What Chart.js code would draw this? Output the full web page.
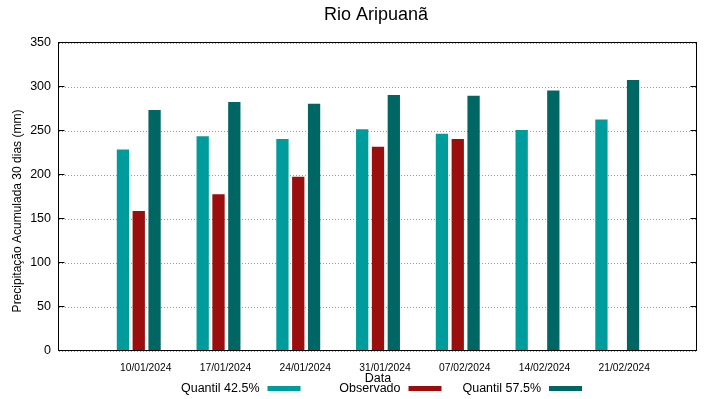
<!DOCTYPE html>
<html><head><meta charset="utf-8">
<script src="https://cdn.jsdelivr.net/npm/chart.js@4.4.1/dist/chart.umd.min.js"></script>
<style>html,body{margin:0;padding:0;background:#fff;overflow:hidden}</style>
</head><body>
<canvas id="c" width="719" height="399" style="display:block;width:719px;height:399px"></canvas>
<script>
const chartTitle = 'Rio Aripuanã';
const yTitle = 'Precipitação Acumulada 30 dias (mm)';
const xTitle = 'Data';
const dates = ['10/01/2024','17/01/2024','24/01/2024','31/01/2024','07/02/2024','14/02/2024','21/02/2024'];
const seriesNames = ['Quantil 42.5%','Observado','Quantil 57.5%'];
const quantil425 = [229,244,241,252,247,251,263];
const observado = [159,178,198,232,241,null,null];
const quantil575 = [274,283,281,291,290,296,308];
const colors = ['#009c9c','#9a0e0e','#006663'];

const FONT = '"Liberation Sans", Arial, sans-serif';
const pad = a => [null, ...a, null];
const labels = ['', ...dates, ''];

const deco = {
  id: 'deco',
  afterDatasetsDraw(chart) {
    const {ctx, chartArea: a, scales} = chart;
    ctx.save();
    ctx.strokeStyle = '#000';
    ctx.lineWidth = 1;
    const L = Math.round(a.left) - 0.5, R = Math.round(a.right) - 0.5;
    const T = Math.round(a.top) - 0.5, B = Math.round(a.bottom) - 0.5;
    ctx.beginPath();
    scales.y.ticks.forEach(t => {
      const y = Math.round(scales.y.getPixelForValue(t.value)) - 0.5;
      ctx.moveTo(L, y); ctx.lineTo(L + 6, y);
      ctx.moveTo(R, y); ctx.lineTo(R - 6, y);
    });
    ctx.stroke();
    ctx.strokeRect(L, T, R - L, B - T);
    ctx.restore();
  },
  afterDraw(chart) {
    const {ctx, chartArea: a} = chart;
    const cx = (a.left + a.right) / 2;
    ctx.save();
    ctx.fillStyle = '#000';
    ctx.textAlign = 'center';
    ctx.textBaseline = 'alphabetic';
    ctx.font = '18px ' + FONT;
    ctx.fillText(chartTitle, cx - 2, 20);
    ctx.save();
    ctx.translate(20.7, 211);
    ctx.rotate(-Math.PI / 2);
    ctx.font = '12px ' + FONT;
    ctx.fillText(yTitle, 0, 0);
    ctx.restore();
    ctx.font = '12.5px ' + FONT;
    ctx.textAlign = 'right';
    const offs = [-118.5, 22.5, 163];
    chart.data.datasets.forEach((ds, i) => {
      const xr = cx + offs[i];
      ctx.fillStyle = '#000';
      ctx.fillText(ds.label, xr, 392);
      ctx.fillStyle = ds.backgroundColor;
      ctx.fillRect(xr + 8, 386, 33, 5);
    });
    ctx.restore();
  }
};

new Chart(document.getElementById('c'), {
  type: 'bar',
  data: {
    labels: labels,
    datasets: [
      {label: seriesNames[0], data: pad(quantil425), backgroundColor: colors[0]},
      {label: seriesNames[1], data: pad(observado), backgroundColor: colors[1]},
      {label: seriesNames[2], data: pad(quantil575), backgroundColor: colors[2]}
    ]
  },
  options: {
    responsive: false,
    animation: false,
    devicePixelRatio: 1,
    layout: {padding: {left: 0, right: 22, top: 43, bottom: 0}},
    datasets: {bar: {categoryPercentage: 0.595, barPercentage: 0.777}},
    plugins: {legend: {display: false}, title: {display: false}, tooltip: {enabled: false}},
    scales: {
      x: {
        offset: false,
        grid: {display: false, drawTicks: false},
        border: {display: false},
        ticks: {autoSkip: false, maxRotation: 0, minRotation: 0, padding: 11, labelOffset: 7,
                color: '#000', font: {family: FONT, size: 10.3}},
        title: {display: true, text: xTitle, color: '#000', font: {family: FONT, size: 12.5},
                padding: {top: 0, bottom: 12.7}},
        afterFit(s) { s.height = 48; }
      },
      y: {
        min: 0, max: 350,
        grid: {color: '#9a9a9a', lineWidth: 1, drawTicks: false},
        border: {display: false, dash: [1, 2]},
        ticks: {stepSize: 50, padding: 8, color: '#000', font: {family: FONT, size: 12.5}},
        afterFit(s) { s.width = 59; }
      }
    }
  },
  plugins: [deco]
});
</script>
</body></html>
